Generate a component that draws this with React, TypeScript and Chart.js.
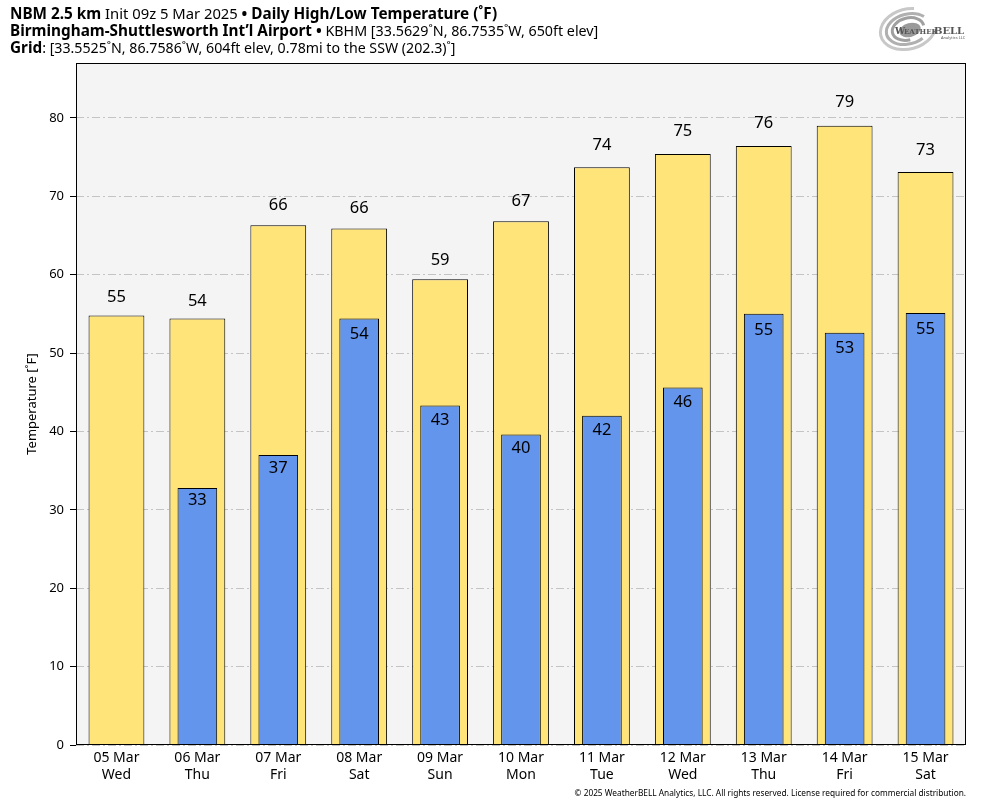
import React, { useEffect, useRef } from "react";
import { Chart, registerables } from "chart.js";

Chart.register(...registerables);

const categories = ["05 Mar", "06 Mar", "07 Mar", "08 Mar", "09 Mar", "10 Mar", "11 Mar", "12 Mar", "13 Mar", "14 Mar", "15 Mar"];
const weekdays = ["Wed", "Thu", "Fri", "Sat", "Sun", "Mon", "Tue", "Wed", "Thu", "Fri", "Sat"];
const highs = [54.8, 54.4, 66.3, 65.9, 59.4, 66.8, 73.7, 75.4, 76.4, 79.0, 73.1];
const lows: (number | null)[] = [null, 32.8, 37.0, 54.4, 43.3, 39.6, 42.0, 45.6, 55.0, 52.6, 55.1];
const yTicks = [0, 10, 20, 30, 40, 50, 60, 70, 80];

const titleLine1: [string, boolean][] = [
  ["NBM 2.5 km", true],
  [" Init 09z 5 Mar 2025 ", false],
  ["\u2022", true],
  [" Daily High/Low Temperature (\u02DAF)", true],
];
const titleLine2: [string, boolean][] = [
  ["Birmingham-Shuttlesworth Int\u2019l Airport", true],
  [" \u2022", true],
  [" KBHM [33.5629\u02DAN, 86.7535\u02DAW, 650ft elev]", false],
];
const titleLine3: [string, boolean][] = [
  ["Grid", true],
  [": [33.5525\u02DAN, 86.7586\u02DAW, 604ft elev, 0.78mi to the SSW (202.3)\u02DA]", false],
];
const yTitle = "Temperature [\u02DAF]";
const footer = "\u00A9 2025 WeatherBELL Analytics, LLC. All rights reserved. License required for commercial distribution.";

const FONT = "'Noto Sans', 'DejaVu Sans', sans-serif";

function drawSegments(ctx: CanvasRenderingContext2D, x: number, y: number, segs: [string, boolean][], reg: number) {
  let cx = x;
  for (const [t, b] of segs) {
    ctx.font = b ? `bold 15.3px ${FONT}` : `${reg}px ${FONT}`;
    ctx.fillText(t, cx, y);
    cx += ctx.measureText(t).width;
  }
}

const decorPlugin = {
  id: "decor",
  beforeDraw(chart: any) {
    const { ctx, chartArea: a, width, height } = chart;
    ctx.save();
    ctx.fillStyle = "#ffffff";
    ctx.fillRect(0, 0, width, height);
    ctx.fillStyle = "#f4f4f4";
    ctx.fillRect(a.left, a.top, a.right - a.left, a.bottom - a.top);
    ctx.restore();
  },
  afterDatasetsDraw(chart: any) {
    const { ctx } = chart;
    const ys = chart.scales.y;
    ctx.save();
    ctx.fillStyle = "#000";
    ctx.textAlign = "center";
    ctx.textBaseline = "middle";
    ctx.font = `16.5px ${FONT}`;
    chart.data.datasets.forEach((ds: any, di: number) => {
      const meta = chart.getDatasetMeta(di);
      meta.data.forEach((bar: any, i: number) => {
        const v = ds.data[i];
        if (v === null || v === undefined) return;
        const txt = String(Math.round(v));
        if (ds.label === "High") {
          ctx.fillText(txt, bar.x, ys.getPixelForValue(v * 1.03) - 4.8);
        } else {
          ctx.fillText(txt, bar.x, ys.getPixelForValue(v * 0.98) + 7.6);
        }
      });
    });
    ctx.restore();
  },
  afterDraw(chart: any) {
    const { ctx, chartArea: a } = chart;
    ctx.save();
    // plot frame
    ctx.strokeStyle = "#000";
    ctx.lineWidth = 1;
    ctx.strokeRect(Math.round(a.left) + 0.5, Math.round(a.top) + 0.5, Math.round(a.right - a.left) - 1, Math.round(a.bottom - a.top) - 1);

    // titles
    ctx.fillStyle = "#000";
    ctx.textAlign = "left";
    ctx.textBaseline = "middle";
    drawSegments(ctx, 10, 15, titleLine1, 14.8);
    drawSegments(ctx, 10, 32, titleLine2, 14.3);
    drawSegments(ctx, 10, 49, titleLine3, 14.2);

    // y title
    ctx.save();
    ctx.translate(32, (a.top + a.bottom) / 2);
    ctx.rotate(-Math.PI / 2);
    ctx.textAlign = "center";
    ctx.textBaseline = "middle";
    ctx.font = `13px ${FONT}`;
    ctx.fillText(yTitle, 0, 0);
    ctx.restore();

    // footer
    ctx.textAlign = "right";
    ctx.textBaseline = "middle";
    ctx.font = `8.3px ${FONT}`;
    ctx.fillText(footer, 966, 794);

    // logo
    const lx = 908, ly = 29;
    ctx.lineWidth = 3;
    const rings = [
      [28, 20, "#c8c8c8"],
      [22, 15, "#b0b0b0"],
      [16, 11, "#a0a0a0"],
    ];
    rings.forEach(([rx, ry, c]: any, k: number) => {
      ctx.strokeStyle = c;
      ctx.beginPath();
      ctx.ellipse(lx, ly, rx, ry, -0.25, 0.4 + k * 0.6, 0.4 + k * 0.6 + Math.PI * 1.5);
      ctx.stroke();
    });
    ctx.fillStyle = "#9a9a9a";
    ctx.beginPath();
    ctx.ellipse(lx + 2, ly + 1, 11, 7, -0.25, 0, Math.PI * 2);
    ctx.fill();
    ctx.fillStyle = "#555";
    ctx.textAlign = "left";
    ctx.textBaseline = "alphabetic";
    ctx.font = `bold 9px 'DejaVu Serif', serif`;
    ctx.fillText("W", 895, 34);
    ctx.font = `bold 7px 'DejaVu Serif', serif`;
    ctx.fillText("EATHER", 904, 34);
    ctx.font = `bold 10px 'DejaVu Serif', serif`;
    ctx.fillText("BELL", 934, 34);
    ctx.font = `4px ${FONT}`;
    ctx.fillText("Analytics LLC", 941, 39);
    ctx.restore();
  },
};

export default function App() {
  const ref = useRef<HTMLCanvasElement | null>(null);
  useEffect(() => {
    if (!ref.current) return;
    const chart = new Chart(ref.current, {
      type: "bar",
      data: {
        labels: categories.map((c, i) => [c, weekdays[i]]),
        datasets: [
          {
            label: "High",
            data: highs,
            backgroundColor: "#ffe47a",
            borderColor: "#000",
            borderWidth: 1,
            barPercentage: 0.69,
            categoryPercentage: 1,
            grouped: false,
            order: 2,
          } as any,
          {
            label: "Low",
            data: lows,
            backgroundColor: "#6495ed",
            borderColor: "#000",
            borderWidth: 1,
            barPercentage: 0.49,
            categoryPercentage: 1,
            grouped: false,
            order: 1,
          } as any,
        ],
      },
      options: {
        responsive: false,
        animation: false,
        layout: { padding: { top: 63, right: 18, left: 0, bottom: 0 } },
        plugins: {
          legend: { display: false },
          tooltip: { enabled: false },
          title: { display: false },
        },
        scales: {
          x: {
            grid: { display: false, drawTicks: false },
            border: { display: false },
            ticks: {
              color: "#000",
              font: { family: FONT, size: 14 },
              padding: 5,
              maxRotation: 0,
              autoSkip: false,
            },
            afterFit: (s: any) => {
              s.height = 63;
            },
          },
          y: {
            min: 0,
            max: 87,
            ticks: {
              stepSize: 10,
              color: "#000",
              font: { family: FONT, size: 13 },
              padding: 6,
            },
            grid: {
              color: "#c4c4c4",
              lineWidth: 1,
              tickColor: "#000",
              tickLength: 6,
              tickBorderDash: [],
            },
            border: { display: false, dash: [8, 3, 2, 3] },
            afterFit: (s: any) => {
              s.width = 76;
            },
            afterBuildTicks: (s: any) => {
              s.ticks = yTicks.map((v) => ({ value: v }));
            },
          },
        },
      } as any,
      plugins: [decorPlugin],
    });
    return () => chart.destroy();
  }, []);
  return (
    <div style={{ position: "fixed", left: 0, top: 0, width: 984, height: 808, background: "#fff" }}>
      <canvas ref={ref} width={984} height={808} style={{ width: 984, height: 808, display: "block" }} />
    </div>
  );
}
